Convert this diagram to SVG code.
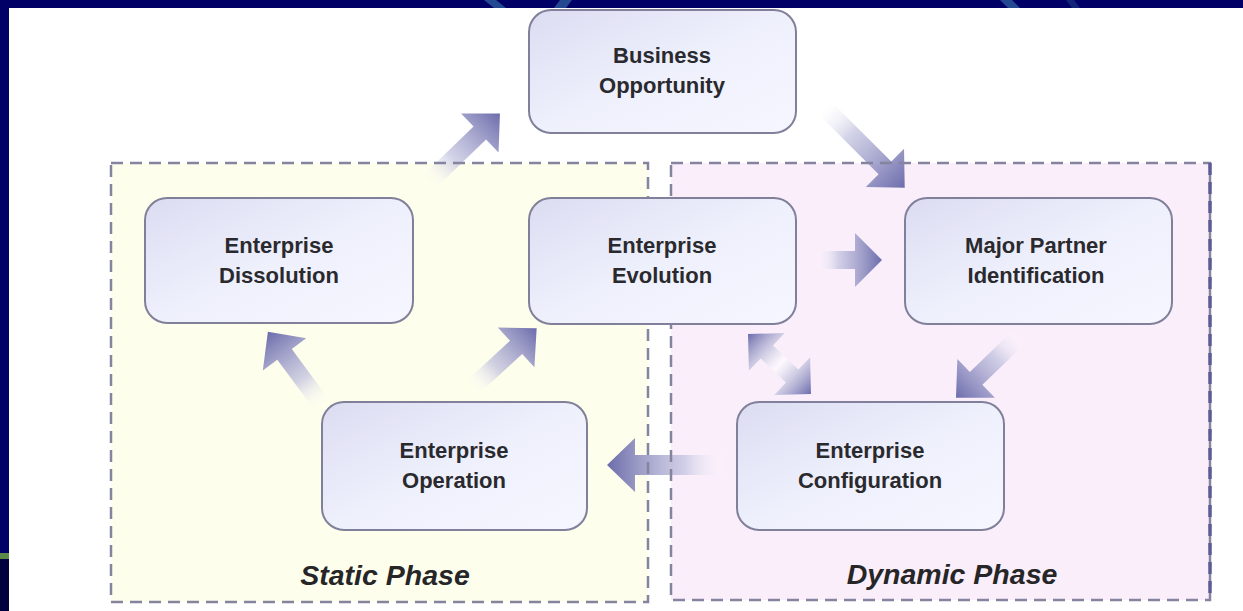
<svg xmlns="http://www.w3.org/2000/svg" width="1243" height="611" viewBox="0 0 1243 611">
  <defs>
    <style>
      .node rect { fill: url(#nodeFill); stroke: #80809a; stroke-width: 2; }
      .node text { font-family: "Liberation Sans", Arial, sans-serif; font-weight: bold; font-size: 22px; fill: #2a2a2e; text-anchor: middle; }
      .phase-label { font-family: "Liberation Sans", Arial, sans-serif; font-weight: bold; font-style: italic; font-size: 28.5px; fill: #262628; text-anchor: middle; }
      .border { fill: none; stroke: #84849e; stroke-width: 2.5; stroke-dasharray: 12 7; }
      .arrow { fill: url(#arrowFill); }
      .arrow2 { fill: url(#arrowBoth); }
    </style>
    <linearGradient id="nodeFill" x1="0" y1="0" x2="1" y2="1">
      <stop offset="0" stop-color="#dcdcf2"/>
      <stop offset="0.5" stop-color="#eef0fc"/>
      <stop offset="1" stop-color="#f6f6ff"/>
    </linearGradient>
    <linearGradient id="arrowFill" x1="0" y1="0" x2="1" y2="0">
      <stop offset="0" stop-color="#ffffff" stop-opacity="0"/>
      <stop offset="0.35" stop-color="#c4c4e0" stop-opacity="0.75"/>
      <stop offset="1" stop-color="#6c6cac"/>
    </linearGradient>
    <linearGradient id="arrowBoth" x1="0" y1="0" x2="1" y2="0">
      <stop offset="0" stop-color="#6c6cac"/>
      <stop offset="0.5" stop-color="#ffffff" stop-opacity="0.6"/>
      <stop offset="1" stop-color="#6c6cac"/>
    </linearGradient>
  </defs>

  <!-- slide frame -->
  <rect x="0" y="0" width="1243" height="611" fill="#000066"/>
  <rect x="0" y="559" width="9" height="52" fill="#00003e"/>
  <rect x="0" y="553" width="9" height="6" fill="#5b8a4a"/>
  <polygon points="484,0 496,0 506,8 494,8" fill="#2c5c9c" opacity="0.8"/>
  <polygon points="560,0 572,0 566,8 554,8" fill="#2c5c9c" opacity="0.8"/>
  <polygon points="1000,0 1012,0 1020,8 1008,8" fill="#2c5c9c" opacity="0.8"/>
  <polygon points="1066,0 1074,0 1080,8 1072,8" fill="#1c3c84" opacity="0.6"/>
  <rect x="9" y="8" width="1234" height="603" fill="#ffffff"/>

  <!-- phase areas -->
  <g id="phase-fills">
    <rect x="111" y="163" width="537" height="439" fill="#fefeec"/>
    <rect x="671" y="163" width="539" height="437" fill="#fbeefb"/>
  </g>

  <!-- connectors -->
  <g id="connectors">
    <path class="arrow" transform="translate(428,183) rotate(-44)" d="M0,-9 L72,-9 L72,-27 L100,0 L72,27 L72,9 L0,9 Z"/>
    <path class="arrow" transform="translate(822,105) rotate(45)" d="M0,-9 L89,-9 L89,-27 L117,0 L89,27 L89,9 L0,9 Z"/>
    <path class="arrow" transform="translate(815,260)" d="M0,-9 L40,-9 L40,-27 L67,0 L40,27 L40,9 L0,9 Z"/>
    <path class="arrow" transform="translate(1020,336) rotate(136)" d="M0,-9 L61,-9 L61,-27 L89,0 L61,27 L61,9 L0,9 Z"/>
    <path class="arrow2" transform="translate(748,334) rotate(43.6)" d="M0,0 L26,-26 L26,-9 L61,-9 L61,-26 L87,0 L61,26 L61,9 L26,9 L26,26 Z"/>
    <path class="arrow" transform="translate(727,465) rotate(180)" d="M0,-10 L92,-10 L92,-27 L120,0 L92,27 L92,10 L0,10 Z"/>
    <path class="arrow" transform="translate(472,388) rotate(-42.7)" d="M0,-9 L60,-9 L60,-27 L88,0 L60,27 L60,9 L0,9 Z"/>
    <path class="arrow" transform="translate(322,405) rotate(-126.5)" d="M0,-9 L63,-9 L63,-27 L91,0 L63,27 L63,9 L0,9 Z"/>
  </g>

  <!-- phase borders -->
  <g id="phase-borders">
    <rect class="border" x="111" y="163" width="537" height="439"/>
    <rect class="border" x="671" y="163" width="539" height="437"/>
    <line x1="1210" y1="163" x2="1210" y2="600" stroke="#5c5c94" stroke-width="3.5" stroke-dasharray="12 7"/>
  </g>

  <g id="business-opportunity" class="node">
    <rect x="529" y="10" width="267" height="123" rx="22"/>
    <text x="662" y="63">Business</text>
    <text x="662" y="93">Opportunity</text>
  </g>

  <g id="enterprise-dissolution" class="node">
    <rect x="145" y="198" width="268" height="125" rx="22"/>
    <text x="279" y="253">Enterprise</text>
    <text x="279" y="283">Dissolution</text>
  </g>

  <g id="enterprise-evolution" class="node">
    <rect x="529" y="198" width="267" height="126" rx="22"/>
    <text x="662" y="253">Enterprise</text>
    <text x="662" y="283">Evolution</text>
  </g>

  <g id="major-partner-identification" class="node">
    <rect x="905" y="198" width="267" height="126" rx="22"/>
    <text x="1036" y="253">Major Partner</text>
    <text x="1036" y="283">Identification</text>
  </g>

  <g id="enterprise-operation" class="node">
    <rect x="322" y="402" width="265" height="128" rx="22"/>
    <text x="454" y="458">Enterprise</text>
    <text x="454" y="488">Operation</text>
  </g>

  <g id="enterprise-configuration" class="node">
    <rect x="737" y="402" width="267" height="128" rx="22"/>
    <text x="870" y="458">Enterprise</text>
    <text x="870" y="488">Configuration</text>
  </g>

  <g id="phase-labels">
    <text class="phase-label" x="385" y="585">Static Phase</text>
    <text class="phase-label" x="952" y="584">Dynamic Phase</text>
  </g>
</svg>
